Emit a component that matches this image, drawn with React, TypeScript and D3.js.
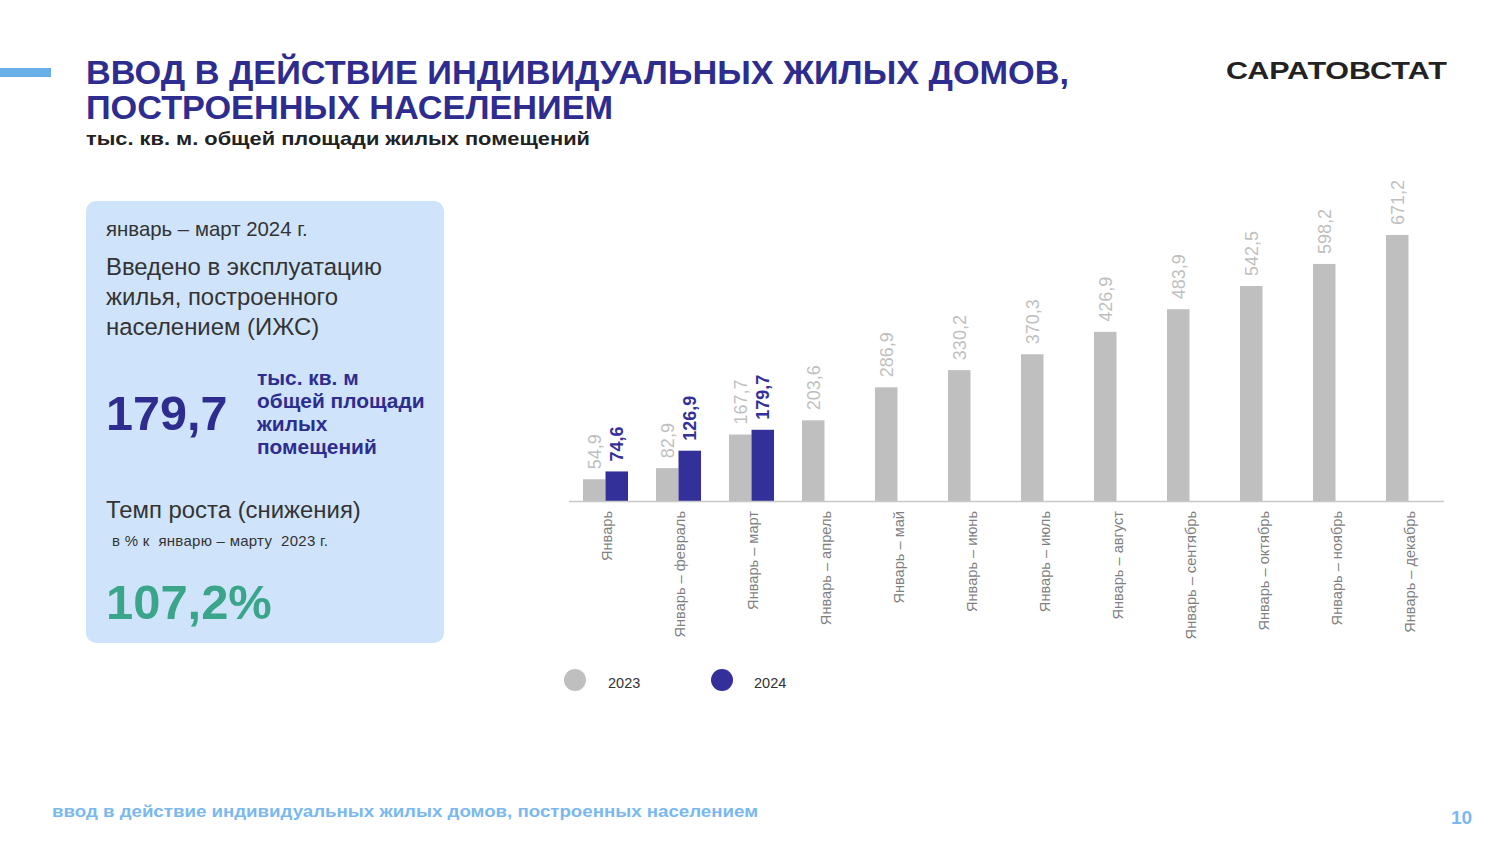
import React from "react";
import * as d3 from "d3";

const categories = [
  "Январь",
  "Январь – февраль",
  "Январь – март",
  "Январь – апрель",
  "Январь – май",
  "Январь – июнь",
  "Январь – июль",
  "Январь – август",
  "Январь – сентябрь",
  "Январь – октябрь",
  "Январь – ноябрь",
  "Январь – декабрь",
];
const values2023 = [54.9, 82.9, 167.7, 203.6, 286.9, 330.2, 370.3, 426.9, 483.9, 542.5, 598.2, 671.2];
const values2024: (number | null)[] = [74.6, 126.9, 179.7, null, null, null, null, null, null, null, null, null];
const seriesNames = ["2023", "2024"];

const GRAY = "#bfbfbf";
const BLUE = "#34309a";
const FONT = "'Liberation Sans', Arial, sans-serif";

const fmt = (v: number) => v.toFixed(1).replace(".", ",");

export default function App() {
  const W = 1500, H = 844;
  const x = d3.scaleBand<string>().domain(categories).range([569, 1445]).paddingInner(0).paddingOuter(0);
  const y = d3.scaleLinear().domain([0, 671.2]).range([501, 235]);
  const barW = 22.5;
  const colors = [GRAY, BLUE];

  return (
    <svg width={W} height={H} style={{ position: "absolute", left: 0, top: 0, background: "#fff" }} fontFamily={FONT}>
      {/* header */}
      <rect x={0} y={68} width={51} height={9} fill="#6aaee8" />
      <text x={86} y={84} fontSize={33} fontWeight="bold" fill="#2e2d8f" textLength={983} lengthAdjust="spacingAndGlyphs">
        ВВОД В ДЕЙСТВИЕ ИНДИВИДУАЛЬНЫХ ЖИЛЫХ ДОМОВ,
      </text>
      <text x={86} y={119} fontSize={33} fontWeight="bold" fill="#2e2d8f" textLength={527} lengthAdjust="spacingAndGlyphs">
        ПОСТРОЕННЫХ НАСЕЛЕНИЕМ
      </text>
      <text x={86} y={145} fontSize={19} fontWeight="bold" fill="#222" textLength={504} lengthAdjust="spacingAndGlyphs">
        тыс. кв. м. общей площади жилых помещений
      </text>
      <text x={1226} y={79} fontSize={24} fontWeight="bold" fill="#222" textLength={221} lengthAdjust="spacingAndGlyphs">
        САРАТОВСТАТ
      </text>

      {/* left panel */}
      <rect x={86} y={201} width={358} height={442} rx={10} fill="#cfe4fb" />
      <text x={106} y={236} fontSize={20.4} fill="#333">январь – март 2024 г.</text>
      <text fontSize={23.9} fill="#333">
        <tspan x={106} y={275}>Введено в эксплуатацию</tspan>
        <tspan x={106} y={305}>жилья, построенного</tspan>
        <tspan x={106} y={335}>населением (ИЖС)</tspan>
      </text>
      <text x={106} y={430} fontSize={48.5} fontWeight="bold" fill="#2e2d8f">179,7</text>
      <text fontSize={20.9} fontWeight="bold" fill="#2e2d8f">
        <tspan x={257} y={385}>тыс. кв. м</tspan>
        <tspan x={257} y={408}>общей площади</tspan>
        <tspan x={257} y={431}>жилых</tspan>
        <tspan x={257} y={454}>помещений</tspan>
      </text>
      <text x={106} y={518} fontSize={23.9} fill="#333">Темп роста (снижения)</text>
      <text x={112} y={546} fontSize={15} fill="#333" style={{ whiteSpace: "pre" }} textLength={216}>в % к  январю – марту  2023 г.</text>
      <text x={106} y={619} fontSize={48.9} fontWeight="bold" fill="#3aa58a">107,2%</text>

      {/* bars */}
      {categories.map((c, i) => {
        const cx = (x(c) as number) + x.bandwidth() / 2;
        const v1 = values2023[i];
        const v2 = values2024[i];
        return (
          <g key={c}>
            <rect x={cx - barW} y={y(v1)} width={barW} height={y(0) - y(v1)} fill={GRAY} />
            <text
              transform={`translate(${cx - barW / 2},${y(v1) - 10}) rotate(-90)`}
              dy="0.35em"
              fontSize={18}
              fill={GRAY}
            >
              {fmt(v1)}
            </text>
            {v2 != null && (
              <>
                <rect x={cx} y={y(v2)} width={barW} height={y(0) - y(v2)} fill={BLUE} />
                <text
                  transform={`translate(${cx + barW / 2},${y(v2) - 10}) rotate(-90)`}
                  dy="0.35em"
                  fontSize={18}
                  fontWeight="bold"
                  fill={BLUE}
                >
                  {fmt(v2)}
                </text>
              </>
            )}
            <text
              transform={`translate(${cx + 1},${511}) rotate(-90)`}
              dy="0.35em"
              textAnchor="end"
              fontSize={14.6}
              fill="#7f7f7f"
            >
              {c}
            </text>
          </g>
        );
      })}
      <line x1={569} x2={1444} y1={501.5} y2={501.5} stroke="#c8c8c8" strokeWidth={1.5} />

      {/* legend */}
      {seriesNames.map((s, i) => (
        <g key={s}>
          <circle cx={575 + i * 147} cy={680} r={11} fill={colors[i]} />
          <text x={608 + i * 146} y={688} fontSize={14.5} fill="#333">{s}</text>
        </g>
      ))}

      {/* footer */}
      <text x={52} y={817} fontSize={16} fontWeight="bold" fill="#7ab8f0" textLength={706} lengthAdjust="spacingAndGlyphs">
        ввод в действие индивидуальных жилых домов, построенных населением
      </text>
      <text x={1451} y={824} fontSize={19} fontWeight="bold" fill="#7ab8f0">10</text>
    </svg>
  );
}
